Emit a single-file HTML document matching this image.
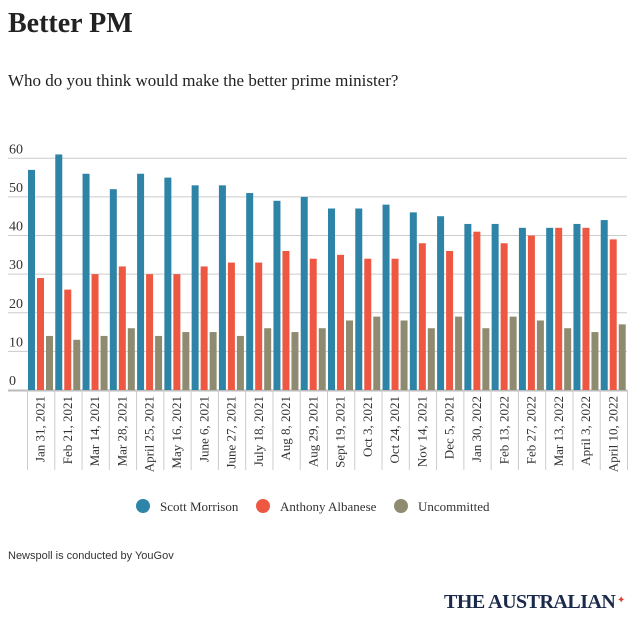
<!DOCTYPE html>
<html><head><meta charset="utf-8"><style>
body{margin:0;background:#fff;width:641px;height:629px;overflow:hidden;font-family:"Liberation Serif",serif}
</style></head><body>
<svg width="641" height="629" xmlns="http://www.w3.org/2000/svg">
<text x="8" y="32" font-family="Liberation Serif" font-weight="bold" font-size="28" fill="#222">Better PM</text>
<text x="8" y="86" font-family="Liberation Serif" font-size="17" fill="#222">Who do you think would make the better prime minister?</text>
<g id="grid"></g><g id="bars"></g><g id="xlabels"></g>
<g>
<circle cx="143" cy="506" r="7" fill="#2e84a6"/>
<text x="160" y="511" font-size="13" fill="#333">Scott Morrison</text>
<circle cx="263" cy="506" r="7" fill="#ee5842"/>
<text x="280" y="511" font-size="13" fill="#333">Anthony Albanese</text>
<circle cx="401" cy="506" r="7" fill="#8e8b71"/>
<text x="418" y="511" font-size="13" fill="#333">Uncommitted</text>
</g>
<text x="8" y="559" font-family="Liberation Sans" font-size="11" fill="#333">Newspoll is conducted by YouGov</text>
<text x="444" y="608" font-family="Liberation Serif" font-weight="bold" font-size="20" fill="#1b2a4a" letter-spacing="-0.5">THE AUSTRALIAN</text>
<text x="617" y="603" font-size="10" fill="#e04030">✦</text>
</svg>
<script>
const categories=["Jan 31, 2021","Feb 21, 2021","Mar 14, 2021","Mar 28, 2021","April 25, 2021","May 16, 2021","June 6, 2021","June 27, 2021","July 18, 2021","Aug 8, 2021","Aug 29, 2021","Sept 19, 2021","Oct 3, 2021","Oct 24, 2021","Nov 14, 2021","Dec 5, 2021","Jan 30, 2022","Feb 13, 2022","Feb 27, 2022","Mar 13, 2022","April 3, 2022","April 10, 2022"];
const morrison=[57,61,56,52,56,55,53,53,51,49,50,47,47,48,46,45,43,43,42,42,43,44];
const albanese=[29,26,30,32,30,30,32,33,33,36,34,35,34,34,38,36,41,38,40,42,42,39];
const uncommitted=[14,13,14,16,14,15,15,14,16,15,16,18,19,18,16,19,16,19,18,16,15,17];
const yTicks=[0,10,20,30,40,50,60];
const NS="http://www.w3.org/2000/svg";
const x0=27,x1=627,y0=390,yTop=158.3,yMax=60;
const step=(x1-x0)/categories.length;
const y=v=>y0-(v/yMax)*(y0-yTop);
function mk(tag,attrs,parent){const e=document.createElementNS(NS,tag);for(const k in attrs)e.setAttribute(k,attrs[k]);parent.appendChild(e);return e;}
const grid=document.getElementById('grid'),bars=document.getElementById('bars'),xl=document.getElementById('xlabels');
yTicks.forEach(t=>{
  if(t>0){const l=mk('line',{x1:8,x2:x1,y1:y(t),y2:y(t),stroke:'#ccc','stroke-width':1},grid);
  
  }
  const tx=mk('text',{x:9,y:y(t)-5,'font-size':14,fill:'#333'},grid);
  tx.textContent=t;
  
  
});
const ax=mk('line',{x1:8,x2:x1,y1:y0+0.5,y2:y0+0.5,stroke:'#bbb','stroke-width':2},grid);


const series=[[morrison,'#2e84a6','morrison'],[albanese,'#ee5842','albanese'],[uncommitted,'#8e8b71','uncommitted']];
categories.forEach((c,i)=>{
  const gx=x0+i*step;
  series.forEach((s,j)=>{
    const v=s[0][i];
    const r=mk('rect',{x:gx+1+j*9,y:y(v),width:7,height:y0-y(v),fill:s[1]},bars);
    
    
  });
  const sep=mk('line',{x1:gx+0.5,x2:gx+0.5,y1:y0,y2:470,stroke:'#ccc','stroke-width':1},xl);
  
  
  const cx=gx+step/2+4;
  const t=mk('text',{x:0,y:0,'font-size':13,fill:'#333','text-anchor':'end',transform:`translate(${cx},396) rotate(-90)`},xl);
  t.textContent=c;
  
  
});
const last=mk('line',{x1:x1+0.5,x2:x1+0.5,y1:y0,y2:470,stroke:'#ccc','stroke-width':1},xl);


</script>
</body></html>
